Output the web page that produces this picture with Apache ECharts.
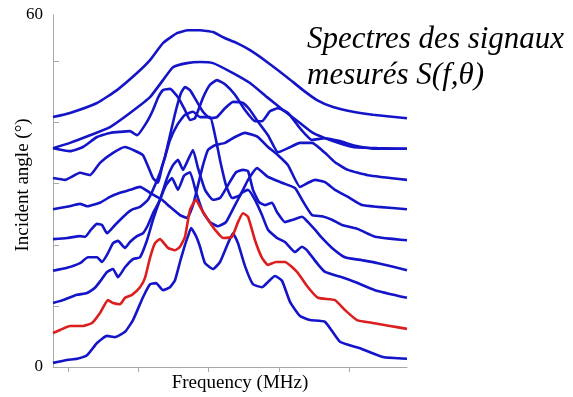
<!DOCTYPE html>
<html>
<head>
<meta charset="utf-8">
<script src="https://cdn.jsdelivr.net/npm/echarts@6/dist/echarts.min.js"></script>
<style>
  html, body { margin: 0; padding: 0; background: #fff; }
  #chart { width: 573px; height: 397px; }
</style>
</head>
<body>
<div id="chart"></div>
<script>
// frequency bins (arbitrary units) vs incident angle offset (deg)
const s1 = [[0,0.7],[14,1.2],[24,1.4],[34,2.0],[44,4.1],[54,5.3],[62,5.1],[72,6.0],[80,8.0],[90,11.9],[97,14.1],[103,14.3],[110,13.1],[117,13.6],[122,14.8],[127,17.9],[132,20.8],[135,22.3],[138,23.7],[143,22.3],[147,20.5],[152,17.7],[160,16.7],[167,17.9],[175,21.1],[180,22.8],[185,21.1],[192,17.2],[200,14.1],[209,13.6],[215,14.5],[222,15.5],[229,14.7],[237,11.1],[247,8.7],[257,8.0],[272,7.7],[287,4.3],[307,3.2],[330,1.7],[354,1.4]];
const s2 = [[0,5.8],[7,6.3],[17,7.0],[30,7.0],[39,7.5],[47,9.2],[55,11.4],[60,10.9],[67,10.7],[72,11.8],[79,12.3],[87,13.6],[92,15.2],[97,18.6],[102,21.1],[107,21.8],[115,20.3],[122,19.9],[127,20.5],[132,22.2],[137,26.8],[143,28.5],[147,27.3],[155,25.1],[162,23.4],[170,22.0],[179,22.2],[185,24.7],[190,26.2],[195,25.6],[202,21.6],[209,18.6],[215,17.4],[223,17.9],[232,17.9],[244,16.2],[255,13.6],[265,11.8],[282,11.4],[292,9.7],[304,8.0],[320,7.5],[337,7.0],[354,6.5]];
const s3 = [[0,10.9],[10,11.4],[24,12.3],[34,12.6],[42,13.5],[48,14.8],[54,16.2],[60,16.7],[65,15.3],[72,17.0],[80,18.4],[87,18.7],[94,21.6],[100,25.1],[107,28.5],[113,31.0],[119,32.2],[125,30.2],[131,32.6],[137,33.2],[143,29.8],[150,26.4],[157,24.7],[165,24.0],[173,24.7],[182,27.6],[189,29.7],[195,30.2],[202,28.5],[209,25.9],[215,23.4],[224,22.0],[232,21.3],[242,19.6],[249,20.5],[254,19.9],[264,17.7],[272,16.2],[289,15.3],[302,14.5],[322,13.1],[354,11.8]];
const s4 = [[0,16.4],[14,16.9],[27,17.7],[35,18.7],[44,18.7],[49,17.9],[54,19.1],[60,21.1],[65,21.5],[72,20.3],[77,21.3],[84,22.3],[90,22.8],[95,24.2],[100,26.2],[107,28.5],[114,32.2],[120,34.4],[125,35.3],[130,33.6],[135,35.3],[140,37.0],[145,33.9],[152,30.2],[160,28.5],[167,28.8],[175,31.0],[183,33.2],[190,33.6],[195,33.4],[200,30.2],[206,28.1],[212,27.6],[219,28.0],[224,26.4],[232,24.7],[240,25.1],[249,25.6],[255,24.7],[262,23.4],[269,22.0],[279,20.3],[292,18.7],[309,18.2],[325,17.7],[354,16.5]];
const s5 = [[0,21.8],[14,22.0],[27,22.3],[32,22.2],[38,23.4],[44,24.4],[49,24.2],[54,22.8],[62,24.2],[74,26.2],[80,26.9],[87,27.3],[95,28.5],[100,30.2],[107,33.1],[112,35.8],[117,38.7],[124,41.2],[132,43.0],[140,43.5],[147,42.6],[157,42.6],[162,39.5],[167,35.3],[173,31.0],[179,28.8],[187,29.3],[195,31.9],[204,33.9],[215,32.4],[229,31.4],[242,30.5],[249,28.5],[259,25.9],[269,25.7],[279,25.1],[289,24.2],[305,23.5],[322,22.2],[354,21.6]];
const s6 = [[0,26.9],[14,27.3],[27,27.8],[34,27.4],[39,27.6],[47,28.0],[57,29.0],[67,29.7],[77,30.2],[87,30.7],[97,29.7],[104,29.0],[109,28.5],[117,27.3],[127,25.9],[134,25.4],[140,27.6],[145,31.0],[150,34.4],[155,37.0],[162,37.8],[172,38.2],[182,39.2],[192,39.9],[205,39.2],[215,37.5],[225,36.1],[235,34.4],[247,30.7],[255,31.4],[262,31.9],[272,31.5],[282,30.2],[295,29.0],[309,27.6],[325,27.3],[354,26.9]];
const s7 = [[0,32.2],[12,31.9],[27,33.1],[37,32.7],[47,34.8],[60,36.5],[72,37.5],[80,37.0],[90,36.1],[100,32.2],[105,31.4],[109,34.1],[112,35.8],[117,39.5],[123,43.8],[128,46.7],[132,47.7],[137,47.2],[143,45.5],[150,43.5],[157,42.4],[164,42.6],[172,44.1],[180,45.2],[190,45.0],[197,43.8],[205,41.8],[215,39.5],[225,36.6],[235,37.3],[247,38.2],[259,38.2],[272,36.5],[282,34.9],[295,33.6],[315,32.7],[354,31.9]];
const s8 = [[0,37.3],[17,36.8],[30,37.5],[44,39.2],[57,39.9],[77,40.2],[84,39.5],[94,41.8],[100,43.8],[105,45.9],[110,47.2],[117,47.4],[125,46.0],[132,43.8],[137,42.1],[142,42.4],[150,45.9],[157,48.1],[164,48.9],[172,48.2],[182,46.4],[192,43.8],[202,41.9],[209,41.9],[217,43.6],[225,44.1],[235,43.3],[247,40.7],[259,38.7],[272,39.0],[287,38.5],[302,37.7],[322,37.2],[354,37.2]];
const s9 = [[0,37.3],[17,38.2],[37,39.5],[57,40.9],[77,43.3],[97,46.0],[110,48.9],[120,51.1],[134,51.8],[147,52.0],[160,51.8],[180,50.1],[197,48.4],[214,46.0],[230,43.8],[247,41.6],[260,39.9],[277,38.7],[300,37.5],[324,37.3],[354,37.2]];
const s10 = [[0,42.6],[17,43.3],[44,45.0],[64,47.2],[84,50.1],[97,52.3],[110,55.2],[124,56.9],[135,57.4],[147,57.4],[160,57.1],[170,56.2],[184,55.2],[197,54.0],[214,52.0],[234,49.4],[250,47.2],[264,45.5],[280,44.3],[300,43.5],[320,43.0],[354,42.4]];

const curves = [s1, s2, s3, s4, s5, s6, s7, s8, s9, s10];
const highlighted = 1; // index of the red spectrum
const xTicks = [15, 85, 155, 226, 296];
const yTicks = [10.4, 20.8, 31.3, 41.7, 52.1];
const yLabels = [0, 60];

const blue = '#1414c8';
const red = '#dc1e1e';
const serif = '"Liberation Serif", "DejaVu Serif", serif';

const chart = echarts.init(document.getElementById('chart'));

const series = curves.map((data, i) => ({
  type: 'line',
  data: data,
  symbol: 'none',
  smooth: 0.15,
  z: i === highlighted ? 3 : 2,
  lineStyle: { color: i === highlighted ? red : blue, width: 2.6 },
}));

chart.setOption({
  animation: false,
  title: {
    text: 'Spectres des signaux\nmesurés S(f,θ)',
    left: 302,
    top: 17,
    textStyle: {
      fontFamily: serif,
      fontStyle: 'italic',
      fontWeight: 'normal',
      fontSize: 31,
      lineHeight: 36,
      color: '#000',
    },
  },
  grid: { left: 53, right: 166, top: 15, bottom: 30, outerBoundsMode: 'none', containLabel: false },
  xAxis: {
    type: 'value',
    min: 0,
    max: 354,
    name: 'Frequency (MHz)',
    nameLocation: 'middle',
    nameGap: 7,
    nameMoveOverlap: false,
    nameTextStyle: { fontFamily: serif, fontSize: 19, color: '#000', padding: [0, 0, 0, 20] },
    axisLine: { lineStyle: { color: '#a8a8a8', width: 1 } },
    axisTick: { show: true, length: 5, customValues: xTicks, lineStyle: { color: '#a8a8a8' } },
    axisLabel: { show: false },
    splitLine: { show: false },
  },
  yAxis: {
    type: 'value',
    min: 0,
    max: 60,
    name: 'Incident angle (°)',
    nameLocation: 'middle',
    nameGap: 20,
    nameRotate: 90,
    nameMoveOverlap: false,
    nameTextStyle: { fontFamily: serif, fontSize: 19, color: '#000', padding: [0, 0, 0, 12] },
    axisLine: { show: true, lineStyle: { color: '#a8a8a8', width: 1 } },
    axisTick: { show: true, inside: true, length: 6, customValues: yTicks, lineStyle: { color: '#a8a8a8' } },
    axisLabel: { show: true, customValues: yLabels, fontFamily: serif, fontSize: 17, color: '#000', margin: 10 },
    splitLine: { show: false },
  },
  series: series,
});
</script>
</body>
</html>
